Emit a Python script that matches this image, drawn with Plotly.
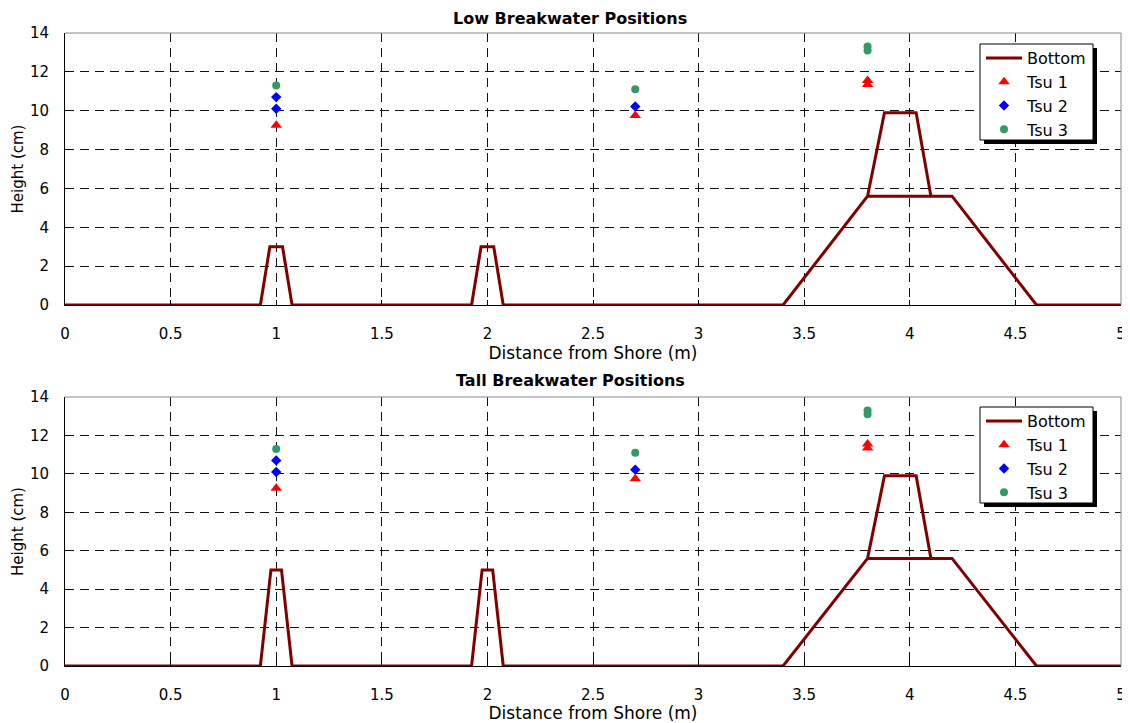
import plotly.graph_objects as go
from plotly.subplots import make_subplots

# Bottom profile (low breakwaters)
bottom_x = [0, 0.925, 0.97, 1.03, 1.075, 1.925, 1.97, 2.03, 2.075, 3.4, 3.8, 3.88, 4.03, 4.1, 3.8, 4.2, 4.6, 5]
bottom_low_y = [0, 0, 3, 3, 0, 0, 3, 3, 0, 0, 5.6, 9.9, 9.9, 5.6, 5.6, 5.6, 0, 0]
bottom_tall_x = [0, 0.925, 0.975, 1.025, 1.075, 1.925, 1.975, 2.025, 2.075, 3.4, 3.8, 3.88, 4.03, 4.1, 3.8, 4.2, 4.6, 5]
bottom_tall_y = [0, 0, 5, 5, 0, 0, 5, 5, 0, 0, 5.6, 9.9, 9.9, 5.6, 5.6, 5.6, 0, 0]

tsu1_x = [1.0, 2.7, 3.8, 3.8]
tsu1_y = [9.25, 9.75, 11.35, 11.55]
tsu2_x = [1.0, 1.0, 2.7]
tsu2_y = [10.1, 10.7, 10.22]
tsu3_x = [1.0, 2.7, 3.8, 3.8]
tsu3_y = [11.3, 11.1, 13.1, 13.3]

titles = ["Low Breakwater Positions", "Tall Breakwater Positions"]
x_ticks = [0, 0.5, 1, 1.5, 2, 2.5, 3, 3.5, 4, 4.5, 5]
y_ticks = [0, 2, 4, 6, 8, 10, 12, 14]

FONT = "DejaVu Sans"
OFF = 8  # page body margin offset
W, H = 1130 - OFF, 723 - OFF
# target plot-area pixel positions (in screenshot coordinates)
X_LEFT, X_RIGHT = 65, 1121
Y_TOP, Y_BOT = 33, 666
ML, MR = X_LEFT - OFF, (W + OFF) - X_RIGHT
MT, MB = Y_TOP - OFF, (H + OFF) - Y_BOT
PW, PH = X_RIGHT - X_LEFT, Y_BOT - Y_TOP

def px_x(p):
    return (p - X_LEFT) / PW

def px_y(p):
    return (Y_BOT - p) / PH

fig = make_subplots(rows=2, cols=1)
top_dom = [px_y(305), 1.0]
bot_dom = [0.0, px_y(397)]

for r, (by, bx, leg) in enumerate([(bottom_low_y, bottom_x, "legend"), (bottom_tall_y, bottom_tall_x, "legend2")], start=1):
    fig.add_trace(go.Scatter(x=bx, y=by, mode="lines", name="Bottom",
                             line=dict(color="#800000", width=3), legend=leg), row=r, col=1)
    fig.add_trace(go.Scatter(x=tsu1_x, y=tsu1_y, mode="markers", name="Tsu 1",
                             marker=dict(symbol="triangle-up", color="#FF0000", size=10), legend=leg), row=r, col=1)
    fig.add_trace(go.Scatter(x=tsu2_x, y=tsu2_y, mode="markers", name="Tsu 2",
                             marker=dict(symbol="diamond", color="#0000FF", size=8), legend=leg), row=r, col=1)
    fig.add_trace(go.Scatter(x=tsu3_x, y=tsu3_y, mode="markers", name="Tsu 3",
                             marker=dict(symbol="circle", color="#339966", size=8), legend=leg), row=r, col=1)

axis_common = dict(showline=True, linecolor="black", linewidth=1, mirror=False,
                   showgrid=True, gridcolor="#111111", griddash="9px,6px", gridwidth=1,
                   ticks="inside", ticklen=5, tickcolor="black", zeroline=False,
                   automargin=False,
                   tickfont=dict(family=FONT, size=15, color="black"))

for r, dom in [(1, top_dom), (2, bot_dom)]:
    fig.update_xaxes(range=[0, 5], tickvals=x_ticks, ticktext=[f"{v:g}" for v in x_ticks],
                     ticklabelstandoff=15,
                     title=dict(text="Distance from Shore (m)", font=dict(family=FONT, size=17, color="black"), standoff=2),
                     row=r, col=1, **axis_common)
    fig.update_yaxes(range=[0, 14], tickvals=y_ticks, domain=dom,
                     ticklabelstandoff=12,
                     title=dict(text="Height (cm)", font=dict(family=FONT, size=15, color="black"), standoff=2),
                     row=r, col=1, **axis_common)

# frame lines top/right in gray
shapes = []
for xref, yref in [("x domain", "y domain"), ("x2 domain", "y2 domain")]:
    shapes.append(dict(type="line", xref=xref, yref=yref, x0=0, x1=1, y0=1, y1=1, line=dict(color="#888888", width=1)))
    shapes.append(dict(type="line", xref=xref, yref=yref, x0=1, x1=1, y0=0, y1=1, line=dict(color="#888888", width=1)))

# legend boxes with shadows
for top in (44, 407):
    shapes.append(dict(type="rect", xref="paper", yref="paper",
                       x0=px_x(984), x1=px_x(1097), y0=px_y(top + 100), y1=px_y(top + 4),
                       fillcolor="black", line=dict(width=0), layer="above"))
    shapes.append(dict(type="rect", xref="paper", yref="paper",
                       x0=px_x(980), x1=px_x(1093), y0=px_y(top + 96), y1=px_y(top),
                       fillcolor="white", line=dict(color="black", width=1), layer="above"))

annotations = [
    dict(text="<b>" + titles[0] + "</b>", xref="paper", yref="paper", x=px_x(570), y=px_y(18),
         showarrow=False, font=dict(family=FONT, size=16, color="black"), xanchor="center", yanchor="middle"),
    dict(text="<b>" + titles[1] + "</b>", xref="paper", yref="paper", x=px_x(570), y=px_y(380),
         showarrow=False, font=dict(family=FONT, size=16, color="black"), xanchor="center", yanchor="middle"),
]

legend_style = dict(bgcolor="rgba(0,0,0,0)", borderwidth=0,
                    font=dict(family=FONT, size=16, color="black"),
                    xanchor="left", yanchor="top", tracegroupgap=0, itemwidth=36)

fig.update_layout(
    width=W, height=H,
    margin=dict(l=ML, r=MR, t=MT, b=MB),
    plot_bgcolor="white", paper_bgcolor="white",
    shapes=shapes, annotations=annotations,
    legend=dict(x=px_x(981), y=px_y(41), **legend_style),
    legend2=dict(x=px_x(981), y=px_y(404), **legend_style),
    font=dict(family=FONT, color="black"),
)

fig.write_html("out.html")
